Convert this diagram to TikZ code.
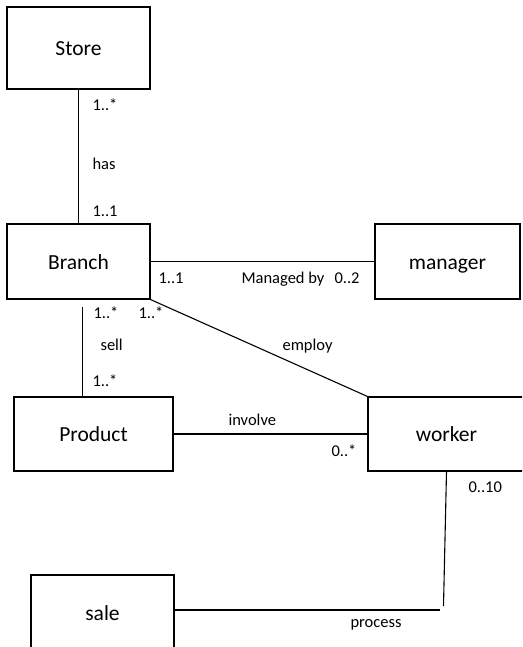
\documentclass[tikz,border=0pt]{standalone}
\usepackage{fontspec}
\setmainfont{Carlito}
\begin{document}
\begin{tikzpicture}[x=1pt, y=-1pt, line width=1.1pt,
  entity/.style={draw, rectangle, inner sep=0pt, text height=15.5pt, text depth=0pt,
                 font=\fontsize{21.5}{25}\selectfont},
  lbl/.style={anchor=base west, inner sep=0pt, font=\fontsize{16.5}{19}\selectfont}]
\useasboundingbox (0,0) rectangle (522,647);
\clip (0,0) rectangle (522,647);

% entities
\node[entity, minimum width=143pt, minimum height=82pt] (store)   at (78.5,48)    {Store};
\node[entity, minimum width=143pt, minimum height=75pt] (branch)  at (78.5,261.5) {Branch};
\node[entity, minimum width=145pt, minimum height=75pt] (manager) at (447.5,261.5){manager};
\node[entity, minimum width=159pt, minimum height=74pt] (product) at (93.5,434)   {Product};
\node[entity, minimum width=157pt, minimum height=74pt] (worker)  at (446.5,434)  {worker};
\node[entity, minimum width=143pt, minimum height=76pt] (sale)    at (102.5,613)  {sale};

% free ends of the open connectors
\coordinate (sellTop)  at (82.5,307);
\coordinate (procBend) at (443.5,606);
\coordinate (procEnd)  at (440,610);

% associations
\draw (store.south) -- (branch.north);
\draw (branch.east) -- (manager.west);
\draw (sellTop) -- (sellTop |- product.north);
\draw (branch.south east) -- (worker.north west);
\draw (product.east) -- (worker.west);
\draw (worker.south) -- (procBend);
\draw (sale.east |- procEnd) -- (procEnd);

% multiplicities and association names
\node[lbl] (mStore)   at (92,111)   {1..*};
\node[lbl] (nHas)     at (92,170)   {has};
\node[lbl] (mBranchA) at (92,216)   {1..1};
\node[lbl] (mBranchM) at (158,283)  {1..1};
\node[lbl] (nManaged) at (241,283)  {Managed by};
\node[lbl] (mManager) at (334,283)  {0..2};
\node[lbl] (mBranchS) at (93,318)   {1..*};
\node[lbl] (mBranchE) at (138,318)  {1..*};
\node[lbl] (nSell)    at (100,350)  {sell};
\node[lbl] (nEmploy)  at (282,350)  {employ};
\node[lbl] (mProduct) at (92,386)   {1..*};
\node[lbl] (nInvolve) at (228,425)  {involve};
\node[lbl] (mWorkerI) at (331,456.5){0..*};
\node[lbl] (mWorkerP) at (468,492)  {0..10};
\node[lbl] (nProcess) at (350,627)  {process};
\end{tikzpicture}
\end{document}
